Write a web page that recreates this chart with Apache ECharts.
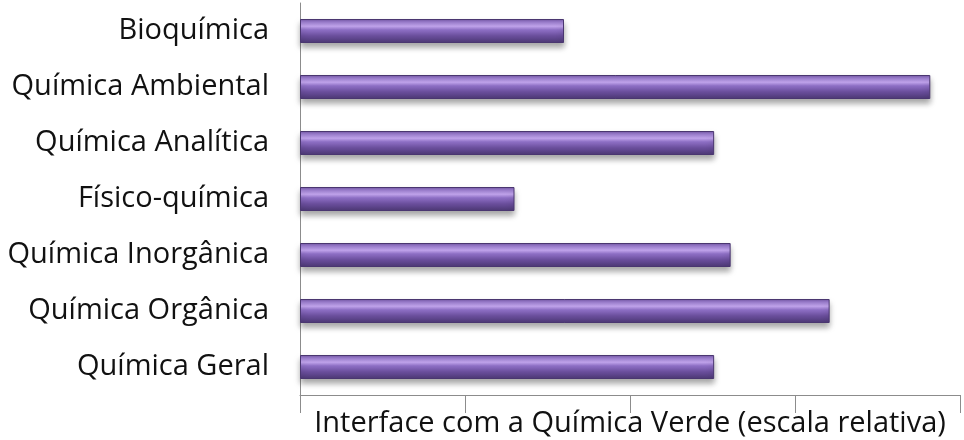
<!DOCTYPE html>
<html>
<head>
<meta charset="utf-8">
<script src="https://cdn.jsdelivr.net/npm/echarts@6/dist/echarts.min.js"></script>
<style>
  html, body { margin: 0; padding: 0; background: #fff; }
  #chart { width: 964px; height: 440px; }
</style>
</head>
<body>
<div id="chart"></div>
<script>
  // categorias de cima para baixo
  var categorias = ['Bioquímica', 'Química Ambiental', 'Química Analítica', 'Físico-química',
    'Química Inorgânica', 'Química Orgânica', 'Química Geral'];
  var valores = [1.6, 3.82, 2.51, 1.3, 2.61, 3.21, 2.51];
  var eixoTitulo = 'Interface com a Química Verde (escala relativa)';

  var myChart = echarts.init(document.getElementById('chart'));
  myChart.setOption({
    animation: false,
    grid: { left: 300, right: 4, top: 3, bottom: 45, outerBoundsMode: 'none' },
    xAxis: {
      type: 'value',
      min: 0,
      max: 4,
      interval: 1,
      name: eixoTitulo,
      nameLocation: 'middle',
      nameGap: 14,
      nameTextStyle: { fontFamily: 'Open Sans', fontSize: 29, color: '#111' },
      axisLine: { show: true, lineStyle: { color: '#8c8c8c', width: 1 } },
      axisTick: { show: true, length: 18, lineStyle: { color: '#8c8c8c' } },
      axisLabel: { show: false },
      splitLine: { show: false }
    },
    yAxis: {
      type: 'category',
      inverse: true,
      data: categorias,
      axisLine: { show: true, lineStyle: { color: '#8c8c8c', width: 1 } },
      axisTick: { show: false },
      axisLabel: { fontFamily: 'Open Sans', fontSize: 29, color: '#111', margin: 31 }
    },
    series: [{
      type: 'bar',
      data: valores,
      barWidth: 24,
      itemStyle: {
        color: new echarts.graphic.LinearGradient(0, 0, 0, 1, [
          { offset: 0, color: '#6f52a0' },
          { offset: 0.12, color: '#9c7ed0' },
          { offset: 0.3, color: '#c6a8f2' },
          { offset: 0.45, color: '#8f70c6' },
          { offset: 0.7, color: '#6a4e9c' },
          { offset: 1, color: '#4c3874' }
        ]),
        borderColor: '#4a3670',
        borderWidth: 1,
        shadowColor: 'rgba(0,0,0,0.35)',
        shadowBlur: 6,
        shadowOffsetY: 4
      }
    }]
  });
</script>
</body>
</html>
